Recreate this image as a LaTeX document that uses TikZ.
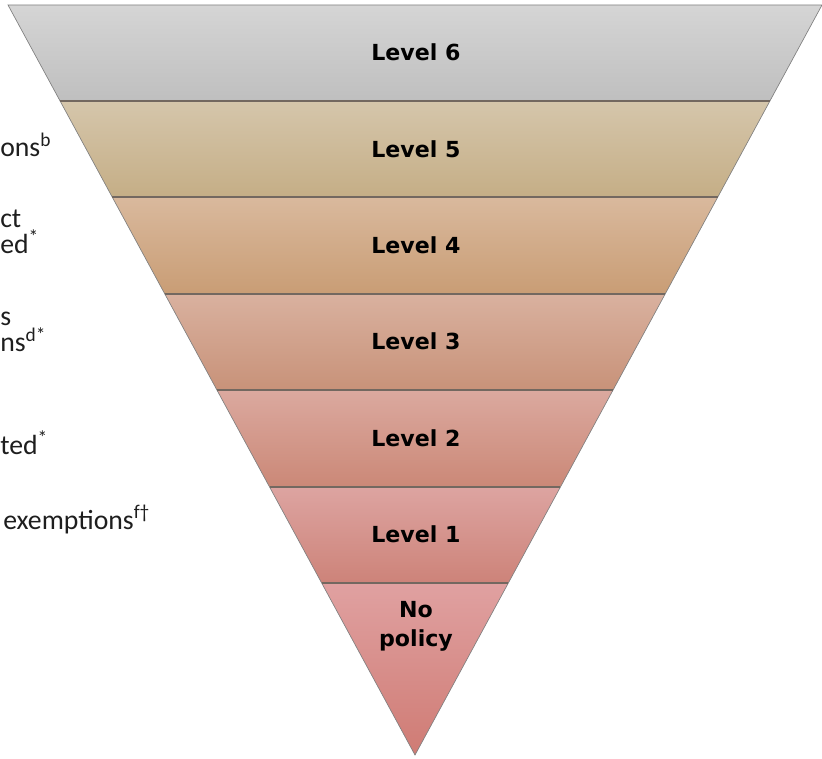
\documentclass[tikz,border=0pt]{standalone}
\usepackage{fontspec}
\setmainfont{Carlito}
\newfontfamily\levelfont{DejaVu Sans}
\usetikzlibrary{positioning}

\definecolor{sixtop}{RGB}{213,213,213}
\definecolor{sixbot}{RGB}{191,191,191}
\definecolor{fivetop}{RGB}{213,198,171}
\definecolor{fivebot}{RGB}{197,174,134}
\definecolor{fourtop}{RGB}{217,185,157}
\definecolor{fourbot}{RGB}{201,157,117}
\definecolor{threetop}{RGB}{217,177,159}
\definecolor{threebot}{RGB}{200,146,121}
\definecolor{twotop}{RGB}{219,169,159}
\definecolor{twobot}{RGB}{203,136,119}
\definecolor{onetop}{RGB}{221,164,161}
\definecolor{onebot}{RGB}{205,131,121}
\definecolor{nonetop}{RGB}{224,161,161}
\definecolor{nonebot}{RGB}{207,123,116}
\definecolor{sepgray}{RGB}{115,104,96}
\definecolor{textgray}{RGB}{30,30,30}

\tikzset{
  levellabel/.style={font=\levelfont\bfseries\fontsize{16.6}{21.5}\selectfont, align=center, text=black},
  sidetext/.style={font=\fontsize{20.8}{25}\selectfont, anchor=base west, inner sep=0pt, text=textgray},
  sepline/.style={draw=sepgray, line width=1.1pt},
  outline/.style={draw=gray, line width=0.5pt},
}

\begin{document}
\begin{tikzpicture}[x=0.75pt, y=-0.75pt]
	\pgfmathsetmacro{\TopY}{5}
	\pgfmathsetmacro{\ApexY}{755}
	\pgfmathsetmacro{\LeftX}{8}
	\pgfmathsetmacro{\RightX}{822}
	\pgfmathsetmacro{\Slope}{407/750}
	\useasboundingbox (0,0) rectangle (822,759);
	\coordinate (TopLeft) at (\LeftX,\TopY);
	\coordinate (TopRight) at (\RightX,\TopY);
	\coordinate (Apex) at (415,\ApexY);
	
	\foreach \ytop/\ybot/\ctop/\cbot in {5/101/sixtop/sixbot, 101/197/fivetop/fivebot, 197/294/fourtop/fourbot, 294/390/threetop/threebot, 390/487/twotop/twobot, 487/583/onetop/onebot, 583/755/nonetop/nonebot}{
		\pgfmathsetmacro{\xa}{\LeftX+(\ytop-\TopY)*\Slope}
		\pgfmathsetmacro{\xb}{\RightX-(\ytop-\TopY)*\Slope}
		\pgfmathsetmacro{\xc}{\RightX-(\ybot-\TopY)*\Slope}
		\pgfmathsetmacro{\xd}{\LeftX+(\ybot-\TopY)*\Slope}
		\shade[top color=\ctop, bottom color=\cbot] (\xa,\ytop) -- (\xb,\ytop) -- (\xc,\ybot) -- (\xd,\ybot) -- cycle;
	}
	
	\draw[outline] (TopLeft) -- (TopRight) -- (Apex) -- cycle;
	
	\foreach \ysep in {101,197,294,390,487,583}{
		\pgfmathsetmacro{\xl}{\LeftX+(\ysep-\TopY)*\Slope}
		\pgfmathsetmacro{\xr}{\RightX-(\ysep-\TopY)*\Slope}
		\draw[sepline] (\xl,\ysep) -- (\xr,\ysep);
	}
	
	\node[levellabel] (LevelSix) at (416,52) {Level 6};
	\node[levellabel] (LevelFive) at (416,149) {Level 5};
	\node[levellabel] (LevelFour) at (416,245) {Level 4};
	\node[levellabel] (LevelThree) at (416,341) {Level 3};
	\node[levellabel] (LevelTwo) at (416,438) {Level 2};
	\node[levellabel] (LevelOne) at (416,534) {Level 1};
	\node[levellabel] (NoPolicy) at (416,626) {No\\policy};
	
	\node[sidetext] (SideFive) at (0,157) {ons\textsuperscript{b}};
	\node[sidetext] (SideFourA) at (0,228) {ct};
	\node[sidetext] (SideFourB) at (0,254) {ed\textsuperscript{*}};
	\node[sidetext] (SideThreeA) at (0,326) {s};
	\node[sidetext] (SideThreeB) at (0,352) {ns\textsuperscript{d*}};
	\node[sidetext] (SideTwo) at (0,455) {ted\textsuperscript{*}};
	\node[sidetext] (SideOne) at (3,529) {exemptions\textsuperscript{f†}};
\end{tikzpicture}
\end{document}
